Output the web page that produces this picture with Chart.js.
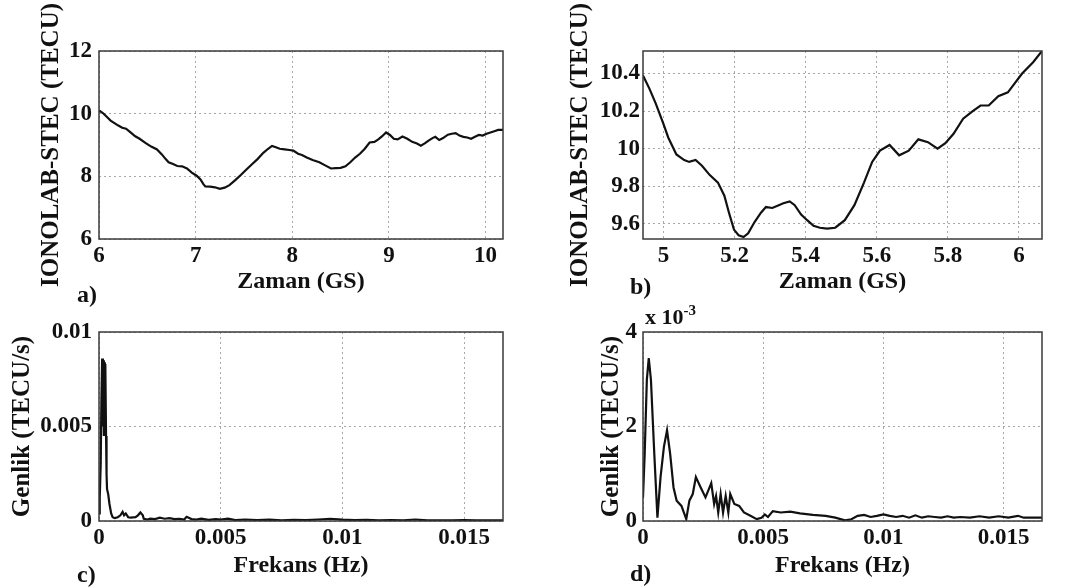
<!DOCTYPE html>
<html>
<head>
<meta charset="utf-8">
<script src="https://cdn.jsdelivr.net/npm/chart.js@4"></script>
<style>
  body { margin: 0; background: #fff; width: 1066px; height: 588px; overflow: hidden; position: relative;
         font-family: "Liberation Serif", "Times New Roman", serif; font-weight: bold; color: #111; }
  canvas { position: absolute; }
  .lbl { position: absolute; font-size: 24px; line-height: 1; white-space: nowrap; }
  .lbl sup { font-size: 15px; position: relative; top: -3px; vertical-align: top; }
</style>
</head>
<body>
<canvas id="chartA" width="520" height="300" style="left:0;top:0"></canvas>
<canvas id="chartB" width="546" height="300" style="left:520px;top:0"></canvas>
<canvas id="chartC" width="520" height="288" style="left:0;top:300px"></canvas>
<canvas id="chartD" width="546" height="288" style="left:520px;top:300px"></canvas>
<div class="lbl" style="left:77px;top:282px">a)</div>
<div class="lbl" style="left:630px;top:274px">b)</div>
<div class="lbl" style="left:77px;top:562px">c)</div>
<div class="lbl" style="left:630px;top:561px">d)</div>
<div class="lbl" style="left:645px;top:306px;font-size:22px">x 10<sup>-3</sup></div>
<script>
// a) STEC, 6 - 10.2 GS
const aTime = [6.00, 6.04, 6.08, 6.12, 6.16, 6.20, 6.24, 6.28, 6.32, 6.375, 6.42, 6.48, 6.54, 6.60, 6.65, 6.69,
  6.72, 6.76, 6.81, 6.86, 6.91, 6.96, 7.01, 7.05, 7.08, 7.10, 7.15, 7.20, 7.25, 7.30, 7.35, 7.41, 7.47, 7.52,
  7.58, 7.64, 7.70, 7.75, 7.79, 7.83, 7.87, 7.92, 7.97, 8.01, 8.06, 8.10, 8.15, 8.21, 8.28, 8.34, 8.40, 8.45,
  8.50, 8.55, 8.60, 8.65, 8.70, 8.75, 8.80, 8.85, 8.89, 8.93, 8.97, 9.01, 9.05, 9.09, 9.14, 9.19, 9.24, 9.29,
  9.33, 9.37, 9.41, 9.45, 9.48, 9.52, 9.56, 9.61, 9.65, 9.69, 9.73, 9.77, 9.81, 9.85, 9.89, 9.93, 9.97, 10.01,
  10.05, 10.09, 10.13, 10.18];
const aStec = [10.10, 10.02, 9.90, 9.78, 9.70, 9.62, 9.55, 9.52, 9.42, 9.28, 9.20, 9.07, 8.95, 8.86, 8.70, 8.55,
  8.45, 8.40, 8.33, 8.32, 8.25, 8.12, 8.02, 7.90, 7.75, 7.68, 7.67, 7.65, 7.60, 7.64, 7.72, 7.88, 8.05, 8.20,
  8.38, 8.55, 8.75, 8.88, 8.97, 8.93, 8.88, 8.86, 8.84, 8.82, 8.72, 8.68, 8.60, 8.52, 8.45, 8.35, 8.25, 8.26,
  8.27, 8.32, 8.45, 8.60, 8.72, 8.88, 9.08, 9.10, 9.18, 9.28, 9.40, 9.32, 9.20, 9.18, 9.27, 9.20, 9.10, 9.05,
  8.98, 9.05, 9.14, 9.22, 9.26, 9.16, 9.22, 9.33, 9.36, 9.38, 9.30, 9.26, 9.24, 9.20, 9.26, 9.32, 9.30, 9.36,
  9.40, 9.44, 9.48, 9.48];

// b) STEC, 4.94 - 6.07 GS
const bTime = [4.942, 4.960, 4.978, 5.000, 5.013, 5.036, 5.058, 5.072, 5.090, 5.108, 5.130, 5.153, 5.171, 5.184,
  5.198, 5.211, 5.225, 5.238, 5.256, 5.274, 5.288, 5.306, 5.324, 5.337, 5.355, 5.369, 5.387, 5.404, 5.422,
  5.440, 5.460, 5.483, 5.510, 5.537, 5.564, 5.587, 5.609, 5.636, 5.663, 5.690, 5.717, 5.744, 5.771, 5.793,
  5.816, 5.843, 5.870, 5.892, 5.915, 5.942, 5.969, 5.987, 6.009, 6.040, 6.065];
const bStec = [10.39, 10.32, 10.24, 10.13, 10.06, 9.97, 9.94, 9.93, 9.94, 9.91, 9.86, 9.82, 9.75, 9.66,
  9.57, 9.54, 9.53, 9.55, 9.61, 9.66, 9.69, 9.685, 9.70, 9.71, 9.72, 9.70, 9.65, 9.62, 9.59,
  9.58, 9.575, 9.58, 9.62, 9.70, 9.82, 9.93, 9.99, 10.02, 9.965, 9.99, 10.05, 10.035, 10.00, 10.03,
  10.08, 10.16, 10.20, 10.23, 10.23, 10.28, 10.30, 10.345, 10.40, 10.46, 10.52];

// c) genlik spektrumu (TECU/s)
const cFreq = [0, 0.00003, 0.00007, 0.0001, 0.00013, 0.00016, 0.00018, 0.0002, 0.00022, 0.00024, 0.00026,
  0.00029, 0.00031, 0.00033, 0.00038, 0.00043, 0.0005, 0.00056, 0.00065, 0.00077, 0.00088, 0.00097, 0.00103,
  0.0011, 0.0012, 0.0013, 0.0015, 0.0016, 0.0017, 0.0018, 0.00184, 0.002, 0.0021, 0.0023, 0.0025, 0.0027,
  0.0029, 0.0031, 0.0033, 0.0035, 0.0036, 0.0038, 0.004, 0.0042, 0.0045, 0.0048, 0.005, 0.0053, 0.0056, 0.006,
  0.0065, 0.007, 0.0075, 0.008, 0.0085, 0.009, 0.0095, 0.01, 0.0105, 0.011, 0.0115, 0.012, 0.0125, 0.013,
  0.0135, 0.014, 0.0145, 0.015, 0.0155, 0.016, 0.0166];
const cAmp = [0.0004, 0.0012, 0.0030, 0.0065, 0.0086, 0.0050, 0.0085, 0.0045, 0.0084, 0.0060, 0.0083,
  0.0045, 0.0025, 0.0017, 0.0014, 0.0009, 0.0004, 0.0002, 0.00015, 0.0002, 0.0003, 0.00048, 0.0003,
  0.0004, 0.0002, 0.00018, 0.0002, 0.0003, 0.00045, 0.0003, 0.00012, 0.00008, 0.00012, 0.0001, 0.00018, 0.00012,
  0.00015, 0.0001, 0.00012, 0.00008, 0.00022, 0.0001, 0.00008, 0.00012, 0.00006, 0.0001, 0.00008, 0.00012, 0.00005, 0.00008,
  0.00005, 0.00007, 0.00004, 0.00006, 0.00005, 0.00008, 0.00012, 0.00007, 0.00005, 0.00006, 0.00004, 0.00005, 0.00004, 0.00008,
  0.00003, 0.00004, 0.00003, 0.00005, 0.00003, 0.00004, 0.00003];

// d) genlik spektrumu (x 10^-3 TECU/s)
const dFreq = [0, 0.00007, 0.00016, 0.00024, 0.00033, 0.00047, 0.0006, 0.00073, 0.00087, 0.001, 0.00113,
  0.00127, 0.0014, 0.0016, 0.0018, 0.00193, 0.00207, 0.0022, 0.0024, 0.0026, 0.00284, 0.00296, 0.00304,
  0.00313, 0.00323, 0.00333, 0.00344, 0.00355, 0.00363, 0.0038, 0.004, 0.0042, 0.00447, 0.00473, 0.00493,
  0.00507, 0.0052, 0.0054, 0.00573, 0.00613, 0.00653, 0.00707, 0.0076, 0.008, 0.0084, 0.00867, 0.00893,
  0.0092, 0.00947, 0.00973, 0.01, 0.01027, 0.01053, 0.0108, 0.01107, 0.01133, 0.0116, 0.01187, 0.01213,
  0.0124, 0.01267, 0.01293, 0.0132, 0.0136, 0.014, 0.0144, 0.0148, 0.0152, 0.0156, 0.01584, 0.0166];
const dAmp = [0.5, 1.42, 2.99, 3.45, 2.99, 1.42, 0.07, 0.93, 1.57, 1.92, 1.42,
  0.71, 0.43, 0.32, 0.04, 0.43, 0.57, 0.93, 0.71, 0.50, 0.80, 0.36, 0.53,
  0.18, 0.57, 0.18, 0.53, 0.18, 0.57, 0.36, 0.32, 0.18, 0.11, 0.04, 0.07,
  0.14, 0.085, 0.21, 0.18, 0.20, 0.16, 0.13, 0.11, 0.07, 0.014, 0.036, 0.11,
  0.13, 0.085, 0.11, 0.14, 0.11, 0.085, 0.11, 0.07, 0.12, 0.07, 0.10, 0.085,
  0.07, 0.10, 0.07, 0.085, 0.07, 0.10, 0.07, 0.10, 0.07, 0.11, 0.07, 0.07];

// eksen tikleri
const aXTicks = [6, 7, 8, 9, 10];
const aYTicks = [6, 8, 10, 12];
const bXTicks = [5, 5.2, 5.4, 5.6, 5.8, 6];
const bYTicks = [9.6, 9.8, 10, 10.2, 10.4];
const fXTicks = [0, 0.005, 0.01, 0.015];
const cYTicks = [0, 0.005, 0.01];
const dYTicks = [0, 2, 4];

const SERIF = "'Liberation Serif', 'Times New Roman', serif";
const TICK_FONT = { family: SERIF, size: 23, weight: 'bold' };
const XTITLE_FONT = { family: SERIF, size: 24, weight: 'bold' };
const YTITLE_FONT = { family: SERIF, size: 25, weight: 'bold' };

// MATLAB tarzi cerceve
const boxPlugin = {
  id: 'box',
  afterDatasetsDraw(chart) {
    const a = chart.chartArea, ctx = chart.ctx;
    ctx.save();
    ctx.strokeStyle = '#3a3a3a';
    ctx.lineWidth = 1.5;
    ctx.strokeRect(a.left, a.top, a.right - a.left, a.bottom - a.top);
    ctx.restore();
  }
};

function panel(id, xs, ys, o) {
  const grid = { color: '#a8a8a8', lineWidth: 1, drawTicks: false };
  const border = { display: false, dash: [2, 3] };
  new Chart(document.getElementById(id), {
    type: 'line',
    data: {
      datasets: [{
        data: xs.map((x, i) => ({ x: x, y: ys[i] })),
        borderColor: '#111', borderWidth: 2.2, pointRadius: 0, tension: 0
      }]
    },
    options: {
      responsive: false,
      animation: false,
      layout: { padding: o.pad },
      plugins: { legend: { display: false }, tooltip: { enabled: false } },
      scales: {
        x: {
          type: 'linear', min: o.xMin, max: o.xMax,
          afterBuildTicks: s => { s.ticks = o.xTicks.map(v => ({ value: v })); },
          afterFit: s => { s.height = o.xH; },
          grid: grid, border: border,
          ticks: { font: TICK_FONT, color: '#111', padding: o.xTickPad, maxRotation: 0, minRotation: 0, autoSkip: false,
                   callback: v => String(v) },
          title: { display: true, text: o.xTitle, font: XTITLE_FONT, color: '#111', padding: { top: 0, bottom: o.xTitlePad } }
        },
        y: {
          type: 'linear', min: o.yMin, max: o.yMax,
          afterBuildTicks: s => { s.ticks = o.yTicks.map(v => ({ value: v })); },
          afterFit: s => { s.width = o.yW; },
          grid: grid, border: border,
          ticks: { font: TICK_FONT, color: '#111', padding: o.yTickPad, autoSkip: false, callback: v => String(v) },
          title: { display: true, text: o.yTitle, font: YTITLE_FONT, color: '#111', padding: { top: o.yTitlePad, bottom: 0 } }
        }
      }
    },
    plugins: [boxPlugin]
  });
}

panel('chartA', aTime, aStec, {
  pad: { left: 0, top: 51, right: 17, bottom: 0 }, xH: 61, yW: 99,
  xMin: 6, xMax: 10.18, yMin: 6, yMax: 12, xTicks: aXTicks, yTicks: aYTicks,
  xTitle: 'Zaman (GS)', yTitle: 'IONOLAB-STEC (TECU)',
  xTickPad: 3, xTitlePad: 4.1, yTickPad: 7, yTitlePad: 37
});
panel('chartB', bTime, bStec, {
  pad: { left: 0, top: 51, right: 24, bottom: 0 }, xH: 61, yW: 123,
  xMin: 4.942, xMax: 6.065, yMin: 9.52, yMax: 10.52, xTicks: bXTicks, yTicks: bYTicks,
  xTitle: 'Zaman (GS)', yTitle: 'IONOLAB-STEC (TECU)',
  xTickPad: 3.5, xTitlePad: 3.6, yTickPad: 3, yTitlePad: 46
});
panel('chartC', cFreq, cAmp, {
  pad: { left: 0, top: 32, right: 17, bottom: 0 }, xH: 67, yW: 99,
  xMin: 0, xMax: 0.0166, yMin: 0, yMax: 0.01, xTicks: fXTicks, yTicks: cYTicks,
  xTitle: 'Frekans (Hz)', yTitle: 'Genlik (TECU/s)',
  xTickPad: 3.7, xTitlePad: 8.1, yTickPad: 7, yTitlePad: 7.5
});
panel('chartD', dFreq, dAmp, {
  pad: { left: 0, top: 32, right: 24, bottom: 0 }, xH: 67, yW: 123,
  xMin: 0, xMax: 0.0166, yMin: 0, yMax: 4, xTicks: fXTicks, yTicks: dYTicks,
  xTitle: 'Frekans (Hz)', yTitle: 'Genlik (TECU/s)',
  xTickPad: 3.7, xTitlePad: 7.6, yTickPad: 6, yTitlePad: 77
});
</script>
</body>
</html>
